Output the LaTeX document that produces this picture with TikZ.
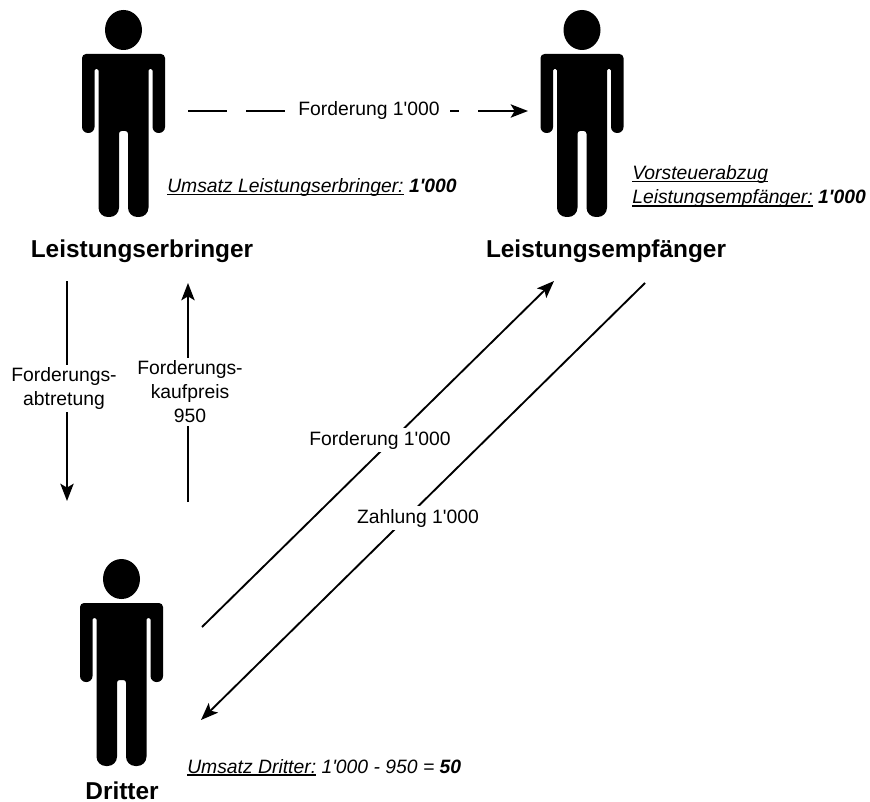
\documentclass[tikz,border=0pt]{standalone}
\usepackage{fontspec}
\setmainfont[Ligatures=TeXOff]{Liberation Sans}
\usetikzlibrary{arrows.meta}
\newcommand{\ulx}[1]{\setbox0=\hbox{#1}\rlap{\vrule width\wd0 height -1.1pt depth 1.9pt}\box0\relax}
\tikzset{
  x=0.75pt,y=-0.75pt,
  flow/.style={draw=black,line width=1.4pt,-{Stealth[length=13pt,width=10pt,inset=3pt]}},
  plain/.style={font=\fontsize{14.5pt}{18pt}\selectfont,fill=white,inner sep=2pt,align=center},
  title/.style={font=\fontsize{18.3pt}{22pt}\selectfont\bfseries,inner sep=0pt},
  note/.style={font=\fontsize{14.5pt}{18.7pt}\selectfont\itshape,inner sep=0pt,align=left,anchor=base west},
  person/.pic={
    \fill[black] (0,20) ellipse [x radius=18.5,y radius=20];
    \fill[black,rounded corners=3pt]
      (0,44) -- (41.5,44) [rounded corners=4.5pt] -- (41.5,123) -- (29,123) [rounded corners=1pt] -- (29,59) -- (25,59)
      [rounded corners=7pt] -- (25,207) -- (4.5,207) [rounded corners=2pt] -- (4.5,121) -- (-4.5,121)
      [rounded corners=7pt] -- (-4.5,207) -- (-25,207) [rounded corners=1pt] -- (-25,59) -- (-29,59)
      [rounded corners=4.5pt] -- (-29,123) -- (-41.5,123) [rounded corners=3pt] -- (-41.5,44) -- cycle;
  }
}
\begin{document}
\begin{tikzpicture}
\useasboundingbox (0,0) rectangle (870,802);
\pic at (123.5,10) {person};
\pic at (582,10) {person};
\pic at (121.5,559) {person};
\coordinate (a1) at (188,111); \coordinate (a2) at (528,111);
\coordinate (b1) at (67,281);  \coordinate (b2) at (67,501);
\coordinate (c1) at (188,502); \coordinate (c2) at (188,283);
\coordinate (d1) at (202,627); \coordinate (d2) at (554,281);
\coordinate (e1) at (645,283); \coordinate (e2) at (201,720);
\draw[flow,dash pattern=on 28.9pt off 14.6pt] (a1) -- (a2);
\draw[flow] (b1) -- (b2);
\draw[flow] (c1) -- (c2);
\draw[flow] (d1) -- (d2);
\draw[flow] (e1) -- (e2);
\node[plain,inner xsep=7.5pt] (l1) at (369,111) {Forderung 1'000};
\node[plain] (l2) at (64,388.5) {Forderungs-\\abtretung};
\node[plain] (l3) at (190,392) {Forderungs-\\kaufpreis\\950};
\node[plain] (l4) at (380,440) {Forderung 1'000};
\node[plain] (l5) at (418,518) {Zahlung 1'000};
\node[title] (t1) at (142,251.5) {Leistungserbringer};
\node[title] (t2) at (606,251.5) {Leistungsempfänger};
\node[title] (t3) at (122,790.5) {Dritter};
\node[note] (n1) at (167,192.5) {\ulx{Umsatz Leistungserbringer:} \textbf{1'000}};
\node[note] (n2) at (632,204) {\ulx{Vorsteuerabzug}\\\ulx{Leistungsempfänger:} \textbf{1'000}};
\node[note] (n3) at (187,773) {\ulx{Umsatz Dritter:} 1'000 - 950 = \textbf{50}};
\end{tikzpicture}
\end{document}
